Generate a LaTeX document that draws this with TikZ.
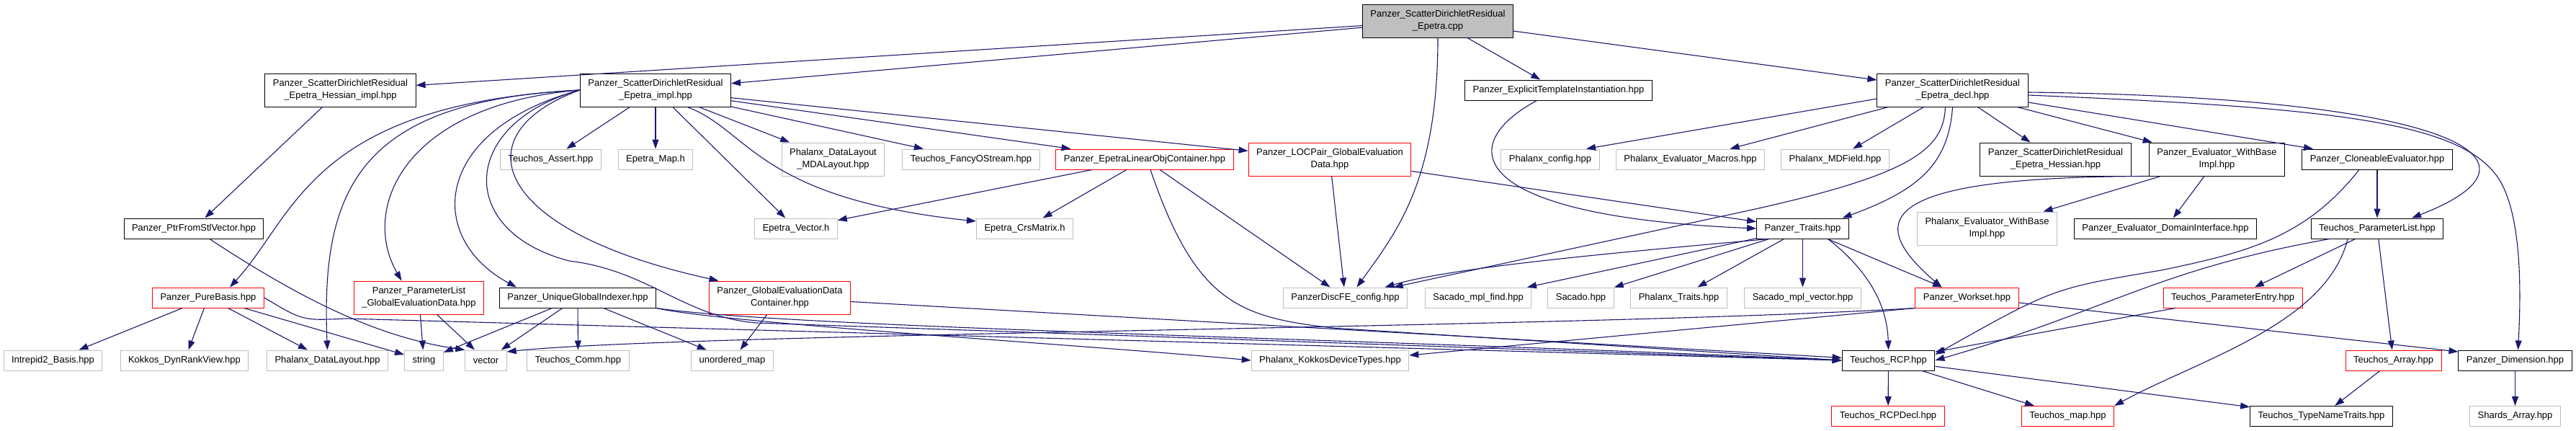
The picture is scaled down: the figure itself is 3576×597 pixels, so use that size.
\documentclass[tikz,border=0pt]{standalone}
\usepackage{fontspec}
\setmainfont{Liberation Sans}
\usetikzlibrary{arrows.meta}
\definecolor{edgeblue}{HTML}{191970}
\definecolor{extgray}{HTML}{BFBFBF}
\tikzset{
  box/.style={draw, line width=1pt, font=\fontsize{13}{17}\selectfont, align=center,
    inner xsep=11pt, inner ysep=2pt, minimum height=28pt},
  two/.style={minimum height=46pt},
  own/.style={box, draw=black},
  miss/.style={box, draw=red},
  ext/.style={box, draw=extgray},
  src/.style={box, draw=black, fill=extgray},
  dep/.style={draw=edgeblue, line width=1.1pt, -{Triangle[length=13pt,width=9pt]}},
}

\begin{document}
\begin{tikzpicture}[x=1pt,y=-1pt]
    \fill[white] (0,0) rectangle (3576,597); % 背景和边界
    % 第一、二层
    \node[src,two] (cpp) at (1996,29) {Panzer\_ScatterDirichletResidual\\\_Epetra.cpp};
    \node[own,two] (hessimpl) at (472.5,125) {Panzer\_ScatterDirichletResidual\\\_Epetra\_Hessian\_impl.hpp};
    \node[own,two] (impl) at (910,125) {Panzer\_ScatterDirichletResidual\\\_Epetra\_impl.hpp};
    \node[own] (eti) at (2163.5,125) {Panzer\_ExplicitTemplateInstantiation.hpp};
    \node[own,two] (decl) at (2710.5,125) {Panzer\_ScatterDirichletResidual\\\_Epetra\_decl.hpp};
    % 第三层
    \node[ext] (assert) at (764.5,221) {Teuchos\_Assert.hpp};
    \node[ext] (epmap) at (910,221) {Epetra\_Map.h};
    \node[ext,two] (mdalayout) at (1156.5,221) {Phalanx\_DataLayout\\\_MDALayout.hpp};
    \node[ext] (fancy) at (1348,221) {Teuchos\_FancyOStream.hpp};
    \node[miss] (eploc) at (1589,221) {Panzer\_EpetraLinearObjContainer.hpp};
    \node[miss,two] (locpair) at (1846,221) {Panzer\_LOCPair\_GlobalEvaluation\\Data.hpp};
    \node[ext] (phxcfg) at (2152,221) {Phalanx\_config.hpp};
    \node[ext] (phxmacros) at (2346.5,221) {Phalanx\_Evaluator\_Macros.hpp};
    \node[ext] (mdfield) at (2547.5,221) {Phalanx\_MDField.hpp};
    \node[own,two] (hessian) at (2853.5,221) {Panzer\_ScatterDirichletResidual\\\_Epetra\_Hessian.hpp};
    \node[own,two] (evalwbi) at (3077.5,221) {Panzer\_Evaluator\_WithBase\\Impl.hpp};
    \node[own] (clone) at (3300,221) {Panzer\_CloneableEvaluator.hpp};
    % 第四层
    \node[own] (ptrstl) at (269,317) {Panzer\_PtrFromStlVector.hpp};
    \node[ext] (epvec) at (1105,317) {Epetra\_Vector.h};
    \node[ext] (crs) at (1422.5,317) {Epetra\_CrsMatrix.h};
    \node[own] (traits) at (2502.5,317) {Panzer\_Traits.hpp};
    \node[ext,two] (phxevalwbi) at (2758.5,317) {Phalanx\_Evaluator\_WithBase\\Impl.hpp};
    \node[own] (domain) at (3006,317) {Panzer\_Evaluator\_DomainInterface.hpp};
    \node[own] (plist) at (3300,317) {Teuchos\_ParameterList.hpp};
    % 第五层
    \node[miss] (purebasis) at (289,413) {Panzer\_PureBasis.hpp};
    \node[miss,two] (plged) at (581.5,413) {Panzer\_ParameterList\\\_GlobalEvaluationData.hpp};
    \node[own] (ugi) at (802,413) {Panzer\_UniqueGlobalIndexer.hpp};
    \node[miss,two] (gedc) at (1082.5,413) {Panzer\_GlobalEvaluationData\\Container.hpp};
    \node[ext] (discfe) at (1867.5,413) {PanzerDiscFE\_config.hpp};
    \node[ext] (mplfind) at (2052,413) {Sacado\_mpl\_find.hpp};
    \node[ext] (sacado) at (2194.5,413) {Sacado.hpp};
    \node[ext] (phxtraits) at (2330.5,413) {Phalanx\_Traits.hpp};
    \node[ext] (mplvec) at (2502.5,413) {Sacado\_mpl\_vector.hpp};
    \node[miss] (workset) at (2730.5,413) {Panzer\_Workset.hpp};
    \node[miss] (pentry) at (3099.5,413) {Teuchos\_ParameterEntry.hpp};
    % 第六层
    \node[ext] (intrepid) at (73.5,500) {Intrepid2\_Basis.hpp};
    \node[ext] (dynrank) at (256,500) {Kokkos\_DynRankView.hpp};
    \node[ext] (datalayout) at (454.5,500) {Phalanx\_DataLayout.hpp};
    \node[ext] (string) at (588.5,500) {string};
    \node[ext] (vector) at (674.5,500) {vector};
    \node[ext] (comm) at (802.5,500) {Teuchos\_Comm.hpp};
    \node[ext] (umap) at (1016.5,500) {unordered\_map};
    \node[ext] (kokkosdev) at (1846.5,500) {Phalanx\_KokkosDeviceTypes.hpp};
    \node[own] (rcp) at (2621.5,500) {Teuchos\_RCP.hpp};
    \node[miss] (tarray) at (3322.5,500) {Teuchos\_Array.hpp};
    \node[own] (dimension) at (3491.5,500) {Panzer\_Dimension.hpp};
    % 第七层
    \node[miss] (rcpdecl) at (2621,577.5) {Teuchos\_RCPDecl.hpp};
    \node[miss] (tmap) at (2870.5,577.5) {Teuchos\_map.hpp};
    \node[own] (tnt) at (3222.5,577.5) {Teuchos\_TypeNameTraits.hpp};
    \node[ext] (shards) at (3491.5,577.5) {Shards\_Array.hpp};

    % cpp 的包含关系
    \draw[dep] (cpp) -- (hessimpl);
    \draw[dep] (cpp) -- (impl);
    \draw[dep] (cpp) -- (eti);
    \draw[dep] (cpp) -- (decl);
    \draw[dep] (cpp.south) .. controls (1996,250) and (1940,320) .. ([xshift=16pt]discfe.north);
    \draw[dep] (hessimpl) -- (ptrstl);
    \draw[dep] (ptrstl) .. controls (440,430) and (540,470) .. (vector.north west);
    % impl 的包含关系
    \draw[dep] (impl.west) .. controls (430,145) and (410,300) .. ([xshift=30pt]purebasis.north);
    \draw[dep] (impl.west) .. controls (500,140) and (445,260) .. (datalayout.north);
    \draw[dep] (impl.west) .. controls (560,145) and (500,290) .. ([xshift=-24pt]plged.north);
    \draw[dep] (impl.west) .. controls (600,180) and (590,330) .. ([xshift=-85pt]ugi.north);
    \draw[dep] (impl.west) .. controls (640,170) and (630,320) .. (790,362) .. controls (900,375) and (950,440) .. (1050,448) -- (rcp.west);
    \draw[dep] (impl.west) .. controls (640,185) and (680,320) .. ([xshift=-85pt]gedc.north);
    \draw[dep] (impl) -- (assert);
    \draw[dep] (impl) -- (epmap);
    \draw[dep] (impl) -- (epvec);
    \draw[dep] ([xshift=44pt]impl.south) .. controls (1040,180) and (1050,275) .. ([yshift=10pt]crs.west);
    \draw[dep] (impl) -- (mdalayout);
    \draw[dep] (impl) -- (fancy);
    \draw[dep] (impl) -- (eploc);
    \draw[dep] (impl) -- (locpair);
    \draw[dep] (eploc) -- (epvec);
    \draw[dep] (eploc) -- (crs);
    \draw[dep] (eploc) -- (discfe);
    \draw[dep] ([xshift=8pt]eploc.south) .. controls (1660,420) and (1720,440) .. (1850,455) -- (rcp.west);
    \draw[dep] (locpair) -- (discfe);
    \draw[dep] (locpair) -- (traits);
    \draw[dep] ([xshift=-30pt]eti.south) .. controls (2020,200) and (2030,300) .. (traits.west);
    % decl 的包含关系
    \draw[dep] ([yshift=-12pt]decl.west) -- ([xshift=50pt]phxcfg.north);
    \draw[dep] (decl) -- (phxmacros);
    \draw[dep] (decl) -- (mdfield);
    \draw[dep] (decl) -- (hessian);
    \draw[dep] (decl) -- (evalwbi);
    \draw[dep] (decl) -- (clone);
    \draw[dep] (decl.south) .. controls (2705,230) and (2660,265) .. ([xshift=55pt]traits.north);
    \draw[dep] ([xshift=-10pt]decl.south) .. controls (2698,210) and (2650,245) .. (2400,298) -- (discfe);
    \draw[dep] ([yshift=-3pt]decl.east) .. controls (3400,135) and (3560,220) .. ([xshift=48pt]plist.north);
    \draw[dep] ([yshift=-7pt]decl.east) .. controls (3250,150) and (3420,170) .. (3470,250) .. controls (3500,300) and (3500,400) .. ([xshift=4pt]dimension.north);
    \draw[dep] (evalwbi.south west) .. controls (2620,245) and (2580,300) .. ([xshift=-35pt]workset.north);
    \draw[dep] (evalwbi) -- (phxevalwbi);
    \draw[dep] (evalwbi) -- (domain);
    \draw[dep] (clone) -- (plist);
    \draw[dep] ([xshift=-25pt]clone.south) .. controls (3200,330) and (3120,350) .. (3000,375) .. controls (2850,400) .. ([yshift=8pt]rcp.east);
    \draw[dep] (plist) -- (pentry);
    \draw[dep] ([xshift=-66pt]plist.south) .. controls (2990,375) and (2930,430) .. (rcp.east);
    \draw[dep] ([xshift=-41pt]plist.south) .. controls (3230,450) and (3050,500) .. (tmap.north east);
    \draw[dep] (plist) -- (tarray);
    \draw[dep] (pentry) -- (rcp);
    \draw[dep] (tarray) -- (tnt);
    \draw[dep] (dimension) -- (shards);
    \draw[dep] (rcp) -- (rcpdecl);
    \draw[dep] (rcp) -- (tmap);
    \draw[dep] (rcp) -- (tnt);
    % Traits 与 Workset
    \draw[dep] ([xshift=-47pt]traits.south) .. controls (2250,350) and (2020,370) .. ([xshift=55pt]discfe.north);
    \draw[dep] (traits) -- (mplfind);
    \draw[dep] (traits) -- (sacado);
    \draw[dep] (traits) -- (phxtraits);
    \draw[dep] (traits) -- (mplvec);
    \draw[dep] (traits) -- (workset);
    \draw[dep] ([xshift=35pt]traits.south) .. controls (2600,380) and (2620,430) .. (rcp.north);
    \draw[dep] (workset.south west) .. controls (2200,455) and (950,462) .. ([yshift=12pt]vector.east);
    \draw[dep] (workset.south west) -- ([yshift=7pt]kokkosdev.east);
    \draw[dep] ([yshift=-7pt]workset.east) -- ([yshift=12pt]dimension.west);
    % 左下部分
    \draw[dep] (purebasis) -- (intrepid);
    \draw[dep] (purebasis) -- (dynrank);
    \draw[dep] (purebasis) -- (datalayout);
    \draw[dep] (purebasis) -- (string);
    \draw[dep] (purebasis.east) .. controls (420,445) .. (480,442) -- (rcp.west);
    \draw[dep] (plged) -- (string);
    \draw[dep] (plged) -- (vector);
    \draw[dep] (ugi) -- (string);
    \draw[dep] (ugi) -- (vector);
    \draw[dep] (ugi) -- (comm);
    \draw[dep] (ugi) -- (umap);
    \draw[dep] (ugi.south east) .. controls (1000,448) and (1500,478) .. (kokkosdev.west);
    \draw[dep] (ugi.south east) .. controls (1100,455) and (1900,470) .. (rcp.west);
    \draw[dep] (gedc) -- (umap);
    \draw[dep] (gedc) -- (rcp);
\end{tikzpicture}
\end{document}
